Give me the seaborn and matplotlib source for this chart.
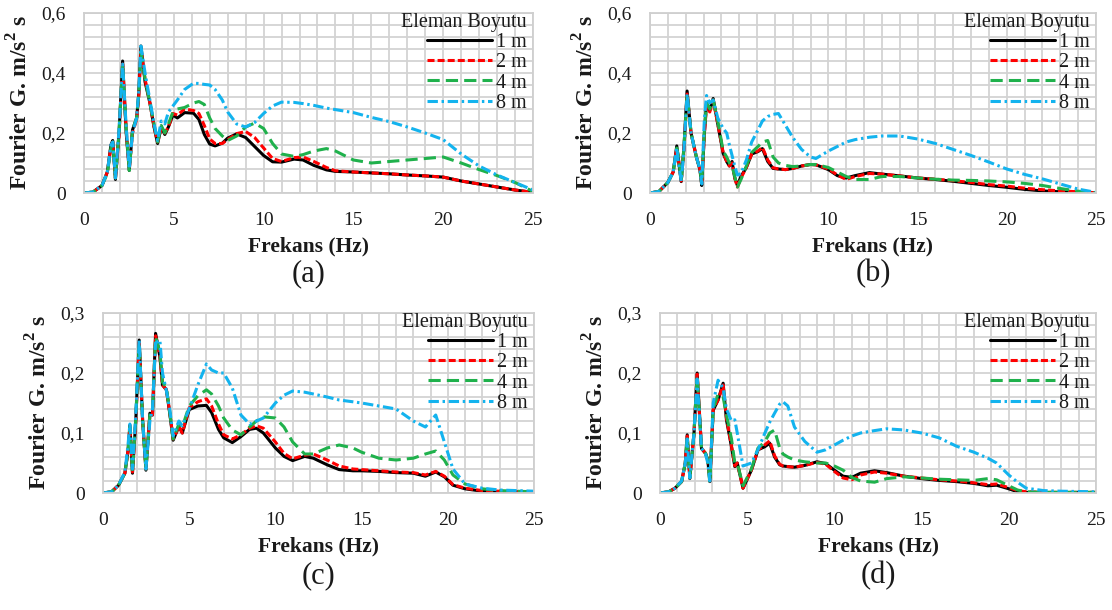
import matplotlib
matplotlib.use("Agg")
import matplotlib.pyplot as plt
from matplotlib.ticker import MultipleLocator, FuncFormatter
import pandas as pd
import seaborn as sns

# ---------------------------------------------------------------- data
SIZES = ["1 m", "2 m", "4 m", "8 m"]

# (a)
FREQ_A = [0, 0.5, 1.0, 1.3, 1.5, 1.6, 1.75, 1.95, 2.15, 2.35, 2.52, 2.7, 2.93, 3.05, 3.17, 3.4,
          3.67, 3.9, 4.1, 4.3, 4.5, 4.7, 4.95, 5.2, 5.6, 6.1, 6.4, 6.7, 7.0, 7.3, 7.7, 8.0, 8.5,
          9.0, 9.5, 10.0, 10.5, 11.0, 11.7, 12.2, 12.8, 13.5, 14.0, 15, 16, 17, 18, 19, 20, 21,
          22, 23, 24, 25]
A_1M = [0.0, 0.003, 0.025, 0.07, 0.16, 0.175, 0.045, 0.2, 0.44, 0.2, 0.075, 0.21, 0.25, 0.33,
        0.49, 0.37, 0.3, 0.22, 0.165, 0.22, 0.195, 0.22, 0.26, 0.25, 0.268, 0.266, 0.245, 0.195,
        0.163, 0.157, 0.166, 0.183, 0.197, 0.185, 0.155, 0.125, 0.104, 0.103, 0.113, 0.11, 0.092,
        0.077, 0.072, 0.07, 0.067, 0.064, 0.06, 0.057, 0.053, 0.04, 0.03, 0.02, 0.01, 0.002]
A_2M = [0.0, 0.003, 0.025, 0.07, 0.155, 0.17, 0.05, 0.19, 0.43, 0.21, 0.08, 0.2, 0.245, 0.32,
        0.48, 0.38, 0.3, 0.22, 0.17, 0.215, 0.2, 0.22, 0.265, 0.26, 0.28, 0.275, 0.265, 0.225,
        0.18, 0.165, 0.165, 0.178, 0.198, 0.205, 0.185, 0.15, 0.115, 0.105, 0.118, 0.12, 0.105,
        0.085, 0.074, 0.07, 0.067, 0.064, 0.06, 0.057, 0.053, 0.04, 0.03, 0.02, 0.01, 0.002]
A_4M = [0.0, 0.003, 0.025, 0.065, 0.15, 0.17, 0.05, 0.2, 0.43, 0.21, 0.075, 0.21, 0.25, 0.33,
        0.47, 0.38, 0.3, 0.23, 0.17, 0.225, 0.2, 0.23, 0.27, 0.28, 0.285, 0.3, 0.305, 0.295,
        0.25, 0.215, 0.19, 0.175, 0.19, 0.22, 0.233, 0.215, 0.165, 0.13, 0.122, 0.128, 0.14,
        0.148, 0.14, 0.11, 0.1, 0.105, 0.11, 0.115, 0.12, 0.1, 0.078, 0.058, 0.035, 0.005]
A_8M = [0.0, 0.003, 0.025, 0.07, 0.16, 0.17, 0.05, 0.21, 0.43, 0.22, 0.08, 0.2, 0.25, 0.34,
        0.49, 0.4, 0.31, 0.23, 0.175, 0.24, 0.23, 0.27, 0.29, 0.31, 0.345, 0.366, 0.365, 0.362,
        0.36, 0.345, 0.31, 0.27, 0.23, 0.22, 0.235, 0.265, 0.29, 0.303, 0.302, 0.298, 0.292,
        0.283, 0.278, 0.268, 0.252, 0.238, 0.22, 0.2, 0.178, 0.13, 0.09, 0.06, 0.035, 0.01]

# (b)
FREQ_B = [0, 0.5, 1.0, 1.3, 1.5, 1.6, 1.75, 1.9, 2.08, 2.3, 2.6, 2.8, 2.9, 3.05, 3.17, 3.35,
          3.54, 3.8, 4.1, 4.3, 4.45, 4.6, 4.75, 4.9, 5.1, 5.4, 5.7, 6.05, 6.3, 6.6, 6.9, 7.2,
          7.6, 8.0, 8.5, 9.0, 9.3, 10.0, 10.5, 11.0, 11.5, 12.3, 13, 14, 15, 16, 17, 18, 19, 20,
          21, 22, 23, 24, 25]
B_1M = [0.0, 0.005, 0.035, 0.07, 0.157, 0.11, 0.038, 0.15, 0.34, 0.2, 0.12, 0.077, 0.025, 0.2,
        0.3, 0.275, 0.315, 0.23, 0.132, 0.105, 0.09, 0.105, 0.05, 0.025, 0.055, 0.085, 0.13,
        0.138, 0.148, 0.105, 0.082, 0.08, 0.078, 0.082, 0.09, 0.095, 0.094, 0.078, 0.058, 0.05,
        0.058, 0.068, 0.063, 0.057, 0.05, 0.045, 0.039, 0.032, 0.025, 0.019, 0.012, 0.007,
        0.004, 0.002, 0.0]
B_2M = [0.0, 0.005, 0.035, 0.07, 0.15, 0.11, 0.04, 0.14, 0.33, 0.2, 0.12, 0.08, 0.03, 0.2,
        0.29, 0.27, 0.31, 0.23, 0.135, 0.105, 0.09, 0.1, 0.05, 0.02, 0.05, 0.085, 0.13, 0.14,
        0.152, 0.11, 0.084, 0.08, 0.078, 0.082, 0.09, 0.095, 0.094, 0.08, 0.06, 0.045, 0.055,
        0.065, 0.063, 0.057, 0.05, 0.046, 0.041, 0.035, 0.028, 0.023, 0.016, 0.011, 0.007,
        0.004, 0.001]
B_4M = [0.0, 0.005, 0.035, 0.07, 0.15, 0.12, 0.04, 0.15, 0.33, 0.2, 0.12, 0.08, 0.03, 0.21,
        0.3, 0.28, 0.31, 0.24, 0.14, 0.12, 0.1, 0.09, 0.055, 0.02, 0.045, 0.09, 0.135, 0.155,
        0.17, 0.175, 0.12, 0.1, 0.092, 0.088, 0.09, 0.095, 0.095, 0.085, 0.07, 0.055, 0.045,
        0.045, 0.055, 0.055, 0.05, 0.046, 0.043, 0.042, 0.04, 0.037, 0.032, 0.025, 0.015,
        0.006, 0.001]
B_8M = [0.0, 0.005, 0.035, 0.07, 0.15, 0.1, 0.04, 0.14, 0.33, 0.2, 0.12, 0.08, 0.03, 0.25,
        0.325, 0.3, 0.31, 0.25, 0.215, 0.2, 0.16, 0.125, 0.09, 0.06, 0.065, 0.11, 0.17, 0.21,
        0.24, 0.255, 0.262, 0.265, 0.225, 0.185, 0.145, 0.12, 0.115, 0.14, 0.155, 0.17, 0.178,
        0.186, 0.19, 0.19, 0.18, 0.165, 0.145, 0.125, 0.103, 0.08, 0.062, 0.047, 0.03, 0.013,
        0.002]

# (c)
FREQ_C = [0, 0.5, 0.9, 1.27, 1.45, 1.56, 1.71, 1.9, 2.1, 2.3, 2.49, 2.72, 2.87, 3.05, 3.3,
          3.45, 3.68, 3.87, 4.07, 4.4, 4.6, 5.0, 5.5, 6.0, 6.3, 6.7, 7.0, 7.5, 8.0, 8.5, 8.9,
          9.3, 10.0, 10.5, 11.0, 11.7, 12.2, 13.0, 13.7, 14.5, 15, 16, 17, 18, 18.7, 19.3, 19.8,
          20.3, 21, 22, 23, 25]
C_1M = [0.0, 0.002, 0.013, 0.033, 0.07, 0.113, 0.033, 0.12, 0.255, 0.12, 0.038, 0.133, 0.13,
        0.266, 0.227, 0.18, 0.172, 0.133, 0.088, 0.111, 0.1, 0.139, 0.145, 0.146, 0.134, 0.106,
        0.092, 0.084, 0.094, 0.106, 0.108, 0.1, 0.075, 0.061, 0.054, 0.061, 0.058, 0.047, 0.039,
        0.037, 0.037, 0.036, 0.034, 0.033, 0.028, 0.035, 0.027, 0.013, 0.007, 0.003, 0.002,
        0.001]
C_2M = [0.0, 0.002, 0.013, 0.033, 0.07, 0.11, 0.035, 0.12, 0.25, 0.12, 0.04, 0.13, 0.13, 0.262,
        0.23, 0.18, 0.172, 0.135, 0.09, 0.111, 0.1, 0.142, 0.152, 0.157, 0.145, 0.115, 0.097,
        0.09, 0.097, 0.108, 0.112, 0.108, 0.085, 0.066, 0.057, 0.063, 0.065, 0.055, 0.045, 0.04,
        0.039, 0.037, 0.035, 0.034, 0.03, 0.036, 0.028, 0.014, 0.008, 0.004, 0.003, 0.001]
C_4M = [0.0, 0.002, 0.013, 0.033, 0.07, 0.11, 0.035, 0.125, 0.25, 0.12, 0.04, 0.13, 0.135,
        0.26, 0.235, 0.185, 0.175, 0.135, 0.09, 0.115, 0.11, 0.145, 0.162, 0.172, 0.165, 0.145,
        0.125, 0.105, 0.097, 0.11, 0.12, 0.127, 0.125, 0.11, 0.085, 0.065, 0.065, 0.075, 0.08,
        0.075, 0.068, 0.058, 0.055, 0.058, 0.065, 0.07, 0.055, 0.03, 0.015, 0.007, 0.004, 0.002]
C_8M = [0.0, 0.002, 0.013, 0.035, 0.08, 0.115, 0.04, 0.13, 0.255, 0.12, 0.04, 0.12, 0.14, 0.25,
        0.255, 0.2, 0.17, 0.14, 0.095, 0.12, 0.112, 0.14, 0.18, 0.215, 0.205, 0.2, 0.2, 0.175,
        0.13, 0.115, 0.12, 0.125, 0.15, 0.163, 0.17, 0.168, 0.165, 0.16, 0.155, 0.152, 0.15,
        0.145, 0.14, 0.12, 0.11, 0.13, 0.085, 0.04, 0.015, 0.008, 0.005, 0.003]

# (d)
FREQ_D = [0, 0.5, 0.86, 1.24, 1.45, 1.56, 1.71, 1.95, 2.13, 2.38, 2.61, 2.74, 2.86, 3.05,
          3.33, 3.62, 3.81, 4.1, 4.29, 4.43, 4.76, 5.24, 5.62, 6.0, 6.29, 6.57, 6.86, 7.05, 7.33,
          7.71, 8.3, 9.0, 9.5, 10, 10.5, 11, 11.5, 12.3, 13, 14, 15, 16, 17, 18, 18.8, 19.3, 20,
          20.5, 21, 22, 23, 25]
D_1M = [0.0, 0.002, 0.008, 0.019, 0.05, 0.097, 0.024, 0.1, 0.2, 0.074, 0.066, 0.055, 0.019,
        0.138, 0.155, 0.183, 0.122, 0.077, 0.044, 0.05, 0.008, 0.038, 0.072, 0.077, 0.083, 0.06,
        0.047, 0.045, 0.044, 0.043, 0.046, 0.052, 0.049, 0.038, 0.028, 0.026, 0.033, 0.037,
        0.034, 0.028, 0.024, 0.021, 0.019, 0.016, 0.012, 0.013, 0.007, 0.002, 0.001, 0.001,
        0.001, 0.001]
D_2M = [0.0, 0.002, 0.008, 0.019, 0.05, 0.095, 0.025, 0.1, 0.198, 0.075, 0.066, 0.055, 0.02,
        0.14, 0.155, 0.18, 0.125, 0.078, 0.045, 0.05, 0.008, 0.038, 0.072, 0.08, 0.087, 0.062,
        0.048, 0.045, 0.044, 0.043, 0.046, 0.051, 0.048, 0.036, 0.025, 0.022, 0.03, 0.035,
        0.033, 0.028, 0.025, 0.022, 0.02, 0.017, 0.014, 0.015, 0.009, 0.004, 0.002, 0.001,
        0.001, 0.001]
D_4M = [0.0, 0.002, 0.008, 0.019, 0.05, 0.095, 0.025, 0.1, 0.195, 0.075, 0.066, 0.055, 0.015,
        0.14, 0.165, 0.16, 0.13, 0.09, 0.05, 0.05, 0.012, 0.04, 0.075, 0.085, 0.1, 0.105, 0.075,
        0.065, 0.06, 0.055, 0.052, 0.05, 0.05, 0.045, 0.038, 0.026, 0.02, 0.018, 0.024, 0.027,
        0.025, 0.023, 0.022, 0.021, 0.024, 0.022, 0.012, 0.005, 0.002, 0.001, 0.001, 0.001]
D_8M = [0.0, 0.002, 0.008, 0.02, 0.05, 0.09, 0.025, 0.1, 0.19, 0.075, 0.065, 0.05, 0.02, 0.15,
        0.188, 0.175, 0.14, 0.12, 0.122, 0.1, 0.045, 0.05, 0.072, 0.099, 0.118, 0.133, 0.148,
        0.152, 0.145, 0.11, 0.086, 0.068, 0.072, 0.08, 0.088, 0.095, 0.1, 0.104, 0.107, 0.105,
        0.1, 0.092, 0.078, 0.068, 0.058, 0.05, 0.03, 0.018, 0.008, 0.004, 0.003, 0.002]

X_TICKS = [0, 5, 10, 15, 20, 25]
X_LABEL = "Frekans (Hz)"
Y_LABEL = r"Fourier G. m/s$^{\mathbf{2}}$ s"
LEGEND_TITLE = "Eleman Boyutu"

# ---------------------------------------------------------------- style
sns.set_theme(style="white")
plt.rcParams["font.family"] = ["Liberation Serif", "DejaVu Serif"]
plt.rcParams["mathtext.fontset"] = "custom"
plt.rcParams["mathtext.rm"] = "Liberation Serif"
plt.rcParams["mathtext.bf"] = "Liberation Serif:bold"

PALETTE = {"1 m": "#000000", "2 m": "#ff0000", "4 m": "#1fb14c", "8 m": "#13b3ee"}
DASHES = {"1 m": "", "2 m": (2.3, 1.0), "4 m": (4.0, 2.0), "8 m": (3.4, 1.2, 0.8, 1.2)}
TEXT = "#1a1a1a"
GRID = "#d3d3d3"

W, H = 1112, 610
fig = plt.figure(figsize=(W / 100, H / 100), dpi=100)


def box(l, t, r, b):
    return [l / W, 1 - b / H, (r - l) / W, (b - t) / H]


panels = [
    ("(a)", FREQ_A, [A_1M, A_2M, A_4M, A_8M], 0.6, 0.2, 0.04, box(84, 13, 533, 193)),
    ("(b)", FREQ_B, [B_1M, B_2M, B_4M, B_8M], 0.6, 0.2, 0.04, box(650, 13, 1096, 193)),
    ("(c)", FREQ_C, [C_1M, C_2M, C_4M, C_8M], 0.3, 0.1, 0.02, box(103, 313, 534, 493)),
    ("(d)", FREQ_D, [D_1M, D_2M, D_4M, D_8M], 0.3, 0.1, 0.02, box(660, 313, 1096, 493)),
]

comma = FuncFormatter(lambda v, _: ("%g" % round(v, 3)).replace(".", ","))

for tag, freq, series, ymax, ystep, yminor, rect in panels:
    ax = fig.add_axes(rect)
    df = pd.concat(
        [pd.DataFrame({"f": freq, "v": vals, "size": name}) for name, vals in zip(SIZES, series)],
        ignore_index=True,
    )
    sns.lineplot(data=df, x="f", y="v", hue="size", style="size", hue_order=SIZES,
                 style_order=SIZES, palette=PALETTE, dashes=DASHES, linewidth=2.2,
                 legend=False, ax=ax, sort=False)

    ax.set_xlim(0, 25)
    ax.set_ylim(0, ymax)
    ax.set_xticks(X_TICKS)
    ax.yaxis.set_major_locator(MultipleLocator(ystep))
    ax.xaxis.set_minor_locator(MultipleLocator(1))
    ax.yaxis.set_minor_locator(MultipleLocator(yminor))
    ax.yaxis.set_major_formatter(comma)
    ax.grid(which="both", color=GRID, linewidth=1.3)
    ax.set_axisbelow(True)
    for sp in ax.spines.values():
        sp.set_color("#cfcfcf")
        sp.set_linewidth(1.3)
    ax.tick_params(which="both", length=0, labelsize=14, colors=TEXT)
    ax.tick_params(axis="x", pad=14)
    ax.tick_params(axis="y", pad=13)

    ax.set_xlabel(X_LABEL, fontsize=15.5, fontweight="bold", color=TEXT)
    ax.xaxis.set_label_coords(0.5, -53 / 180, transform=ax.transAxes)
    ax.xaxis.label.set_va("center")
    ax.set_ylabel(Y_LABEL, fontsize=17, fontweight="bold", color=TEXT)
    ax.yaxis.set_label_coords(-64 / (rect[2] * W), 0.5, transform=ax.transAxes)
    ax.yaxis.label.set_va("center")

    leg = ax.legend(ax.lines[:4], SIZES, title=LEGEND_TITLE, loc="upper right",
                    bbox_to_anchor=(0.99, 1.01), frameon=False, fontsize=14.5,
                    title_fontsize=14.5, handlelength=3.2, handletextpad=0.2,
                    labelspacing=0.05, borderpad=0.1, borderaxespad=0.0,
                    alignment="right")
    for t in leg.get_texts():
        t.set_color(TEXT)
    leg.get_title().set_color(TEXT)

    cx = rect[0] + rect[2] / 2
    cy_px = 274 if tag in ("(a)", "(b)") else 576
    fig.text(cx, 1 - cy_px / H, tag, ha="center", va="center", fontsize=22, color=TEXT)

fig.savefig("out.png", dpi=100, facecolor="white")
